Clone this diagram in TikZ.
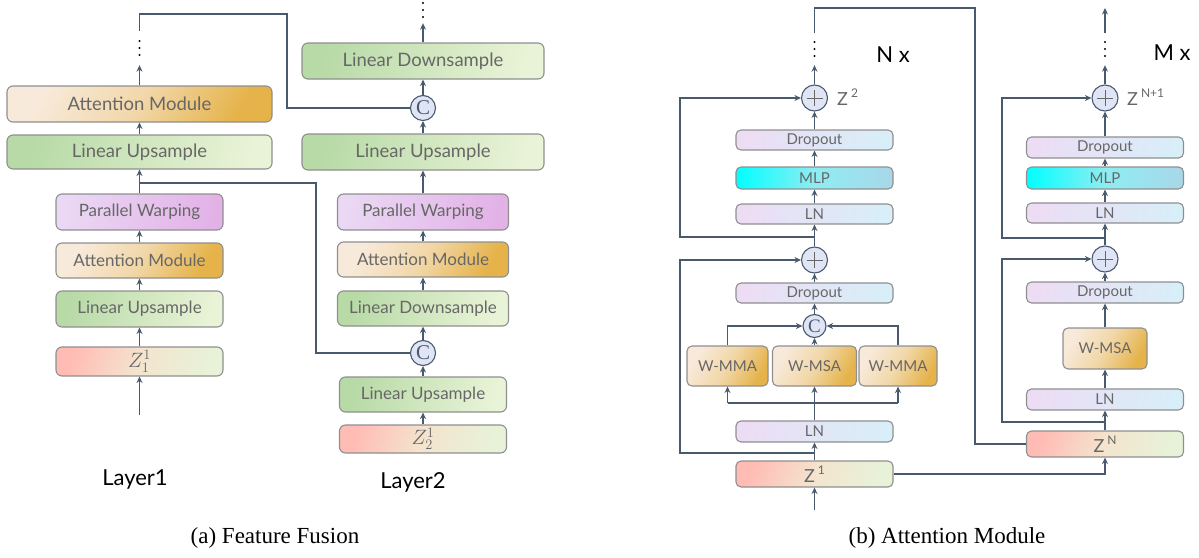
\documentclass[tikz,border=0pt]{standalone}
\usepackage{fontspec}
\setmainfont{Lato}
\newfontfamily\capfont{Liberation Serif}
\usetikzlibrary{arrows.meta}
\definecolor{lc}{HTML}{4A5A6E}
\definecolor{bord}{HTML}{8F8F8F}
\definecolor{txt}{HTML}{676767}
\definecolor{g1}{HTML}{B7DAA6}
\definecolor{g2}{HTML}{E9F3D7}
\definecolor{o1}{HTML}{F8EADB}
\definecolor{o2}{HTML}{E5B34A}
\definecolor{pu1}{HTML}{EAD8F4}
\definecolor{pu2}{HTML}{E2B2E7}
\definecolor{z1}{HTML}{FFBCB5}
\definecolor{z2}{HTML}{F4E4CE}
\definecolor{z3}{HTML}{E7F2D8}
\definecolor{l1}{HTML}{ECDDF5}
\definecolor{l2}{HTML}{D8EEF8}
\definecolor{m1}{HTML}{00FFFF}
\definecolor{m3}{HTML}{8EEDF2}
\definecolor{m2}{HTML}{A9D7E8}
\definecolor{cf}{HTML}{DFE5F5}
\newcommand\supx[1]{\raisebox{0.42em}{\fontsize{12}{12}\selectfont #1}}
\begin{document}
\begin{tikzpicture}[x=1pt,y=-1pt,
  bx/.style={draw=bord,line width=1.1pt,rounded corners=6pt,inner sep=0pt,text=txt,font=\fontsize{17}{20}\selectfont},
  big/.style={font=\fontsize{18.5}{20}\selectfont},
  sbx/.style={bx,rounded corners=5pt,font=\fontsize{15}{17}\selectfont},
  zm/.style={font=\fontsize{21}{22}\selectfont},
  grn/.style={left color=g1,right color=g2,shading angle=75},
  org/.style={left color=o1,right color=o2,middle color=o1!65!o2,shading angle=60},
  pur/.style={left color=pu1,right color=pu2,shading angle=80},
  zc/.style={left color=z1,right color=z3,middle color=z2,shading angle=70},
  lav/.style={left color=l1,right color=l2,shading angle=80},
  mlpc/.style={left color=m1,right color=m2,middle color=m3,shading angle=90},
  dn/.style={inner sep=0pt,minimum width=4pt,minimum height=32pt},
  cc/.style={circle,draw=lc,line width=1.1pt,fill=cf,minimum size=25pt,inner sep=0pt,text=lc,font=\capfont\fontsize{21}{21}\selectfont},
  pl/.style={circle,draw=lc,line width=1.1pt,fill=cf,minimum size=26pt,inner sep=0pt,
    path picture={\draw[txt,line width=0.9pt]
      ([xshift=-8pt]path picture bounding box.center) -- ([xshift=8pt]path picture bounding box.center)
      ([yshift=-8pt]path picture bounding box.center) -- ([yshift=8pt]path picture bounding box.center);}},
  ln/.style={draw=lc,line width=1.1pt},
  arr/.style={ln,-{Stealth[length=6.5pt,width=6pt]}},
  lab/.style={text=txt,font=\fontsize{18}{20}\selectfont,inner sep=0pt},
  lay/.style={text=black,font=\fontsize{22}{24}\selectfont},
  captxt/.style={text=black,font=\capfont\fontsize{23}{26}\selectfont}]
\useasboundingbox (0,0) rectangle (1199,557);

% ---------------- (a) Layer1 ----------------
\node[dn,minimum height=34pt] (d1) at (139.5,48) {};
\node[bx,org,big,minimum width=265pt,minimum height=36pt] (a1) at (139.5,104) {Attention Module};
\node[bx,grn,big,minimum width=265pt,minimum height=34pt] (u1) at (139.5,152) {Linear Upsample};
\coordinate (j1) at (139.5,183);
\node[bx,pur,minimum width=167pt,minimum height=36pt] (pw1) at (139.5,212) {Parallel Warping};
\node[bx,org,minimum width=167pt,minimum height=35pt] (am1) at (139.5,260.5) {Attention Module};
\node[bx,grn,minimum width=167pt,minimum height=36pt] (lu1) at (139.5,309) {Linear Upsample};
\node[bx,zc,zm,minimum width=167pt,minimum height=29pt] (zz1) at (139.5,361.5) {$Z_1^1$};
\coordinate (in1) at (139.5,415);
\node[lay] (lay1) at (135,479) {Layer1};

% ---------------- (a) Layer2 ----------------
\node[dn,minimum height=26pt] (d2) at (423,10) {};
\node[bx,grn,big,minimum width=242pt,minimum height=36pt] (ld2) at (423,61) {Linear Downsample};
\node[cc] (c1) at (423,108) {C};
\node[bx,grn,big,minimum width=242pt,minimum height=36pt] (lu2) at (423,152) {Linear Upsample};
\node[bx,pur,minimum width=171pt,minimum height=36pt] (pw2) at (423,212) {Parallel Warping};
\node[bx,org,minimum width=171pt,minimum height=35pt] (am2) at (423,259.5) {Attention Module};
\node[bx,grn,minimum width=171pt,minimum height=35pt] (ldn2) at (423,308.5) {Linear Downsample};
\node[cc] (c2) at (423,353) {C};
\node[bx,grn,minimum width=167pt,minimum height=35pt] (lu3) at (423,394.5) {Linear Upsample};
\node[bx,zc,zm,minimum width=167pt,minimum height=28pt] (zz2) at (423,439) {$Z_2^1$};
\node[lay] (lay2) at (413,482) {Layer2};

\node[captxt] (cap1) at (275,538) {(a) Feature Fusion};

% ---------------- (b) column 1 ----------------
\node[dn] (e1) at (814.5,49) {};
\node[pl] (pA) at (814.5,98) {};
\node[lab,anchor=west] (zl2) at (837,97) {Z\,\supx{2}};
\node[sbx,lav,minimum width=157pt,minimum height=20pt] (do1) at (814.5,140) {Dropout};
\node[sbx,mlpc,minimum width=157pt,minimum height=22pt] (mlp1) at (814.5,178) {MLP};
\node[sbx,lav,minimum width=157pt,minimum height=20pt] (ln1) at (814.5,214) {LN};
\coordinate (j2) at (814.5,237);
\node[pl] (pB) at (814.5,260) {};
\node[sbx,lav,minimum width=157pt,minimum height=20pt] (do2) at (814.5,293) {Dropout};
\node[cc,minimum size=23pt,font=\capfont\fontsize{19}{19}\selectfont] (cB) at (814.5,326) {C};
\node[sbx,org,minimum width=81pt,minimum height=40pt] (wm1) at (727.5,366) {W-MMA};
\node[sbx,org,minimum width=84pt,minimum height=40pt] (ws1) at (814.5,366) {W-MSA};
\node[sbx,org,minimum width=78pt,minimum height=40pt] (wm2) at (898,366) {W-MMA};
\coordinate (j3) at (814.5,403);
\node[sbx,lav,minimum width=157pt,minimum height=21pt] (ln2) at (814.5,431.5) {LN};
\coordinate (j4) at (814.5,453);
\node[sbx,zc,minimum width=157pt,minimum height=26pt,font=\fontsize{18}{20}\selectfont] (zb1) at (814.5,474) {Z\,\supx{1}};
\coordinate (in2) at (814.5,510);
\coordinate (lx1) at (680,0);
\node[lay] (nx) at (893,55) {N x};

% ---------------- (b) column 2 ----------------
\coordinate (top2) at (1105,8);
\node[dn] (e2) at (1105,49) {};
\node[pl] (pC) at (1105,98) {};
\node[lab,anchor=west] (zl3) at (1127,97) {Z\,\supx{N+1}};
\node[sbx,lav,minimum width=157pt,minimum height=21pt] (do3) at (1105,147.5) {Dropout};
\node[sbx,mlpc,minimum width=157pt,minimum height=22pt] (mlp2) at (1105,178) {MLP};
\node[sbx,lav,minimum width=157pt,minimum height=20pt] (ln3) at (1105,213) {LN};
\coordinate (j5) at (1105,238);
\node[pl] (pD) at (1105,259) {};
\node[sbx,lav,minimum width=157pt,minimum height=21pt] (do4) at (1105,292.5) {Dropout};
\node[sbx,org,minimum width=84pt,minimum height=41pt] (ws2) at (1105,348.5) {W-MSA};
\node[sbx,lav,minimum width=157pt,minimum height=21pt] (ln4) at (1105,399.5) {LN};
\coordinate (j6) at (1105,422);
\node[sbx,zc,minimum width=157pt,minimum height=26pt,font=\fontsize{18}{20}\selectfont] (zN) at (1105,444) {Z\,\supx{N}};
\coordinate (lx2) at (1002,0);
\node[lay] (mx) at (1172,53) {M x};

\node[captxt] (cap2) at (947,538) {(b) Attention Module};

% dots
\foreach \n in {d1,d2,e1,e2} {\foreach \dy in {-7,0,7} {\fill[black] (\n.center) ++(0,\dy) circle (1.1pt);}}

% ---------------- connectors (a) ----------------
\draw[arr] (in1) -- (zz1);
\draw[arr] (zz1) -- (lu1);
\draw[arr] (lu1) -- (am1);
\draw[arr] (am1) -- (pw1);
\draw[arr] (pw1) -- (u1);
\draw[arr] (u1) -- (a1);
\draw[arr] (a1) -- (d1);
\draw[ln] (d1.north) |- (287,14) |- (c1);
\draw[ln] (j1) -| (316,300) |- (c2);

\draw[arr] (zz2) -- (lu3);
\draw[arr] (lu3) -- (c2);
\draw[arr] (c2) -- (ldn2);
\draw[arr] (ldn2) -- (am2);
\draw[arr] (am2) -- (pw2);
\draw[arr] (pw2) -- (lu2);
\draw[arr] (lu2) -- (c1);
\draw[arr] (c1) -- (ld2);
\draw[arr] (ld2) -- (d2);

% ---------------- connectors (b) ----------------
\draw[arr] (in2) -- (zb1);
\draw[arr] (zb1) -- (ln2);
\draw[arr] (ln2) -- (ws1);
\draw[ln] (wm1.south |- j3) -- (wm2.south |- j3);
\draw[arr] (wm1.south |- j3) -- (wm1);
\draw[arr] (wm2.south |- j3) -- (wm2);
\draw[arr] (wm1.north) |- (cB);
\draw[arr] (wm2.north) |- (cB);
\draw[arr] (ws1) -- (cB);
\draw[arr] (cB) -- (do2);
\draw[arr] (do2) -- (pB);
\draw[arr] (j4) -| (lx1 |- pB) -- (pB);
\draw[arr] (pB) -- (ln1);
\draw[arr] (ln1) -- (mlp1);
\draw[arr] (mlp1) -- (do1);
\draw[arr] (do1) -- (pA);
\draw[arr] (j2) -| (lx1 |- pA) -- (pA);
\draw[arr] (pA) -- (e1);
\draw[ln] (e1.north) |- (975,8) |- (zN);
\draw[arr] (zb1) -| (zN);

\draw[arr] (zN) -- (ln4);
\draw[arr] (ln4) -- (ws2);
\draw[arr] (ws2) -- (do4);
\draw[arr] (do4) -- (pD);
\draw[arr] (j6) -| (lx2 |- pD) -- (pD);
\draw[arr] (pD) -- (ln3);
\draw[arr] (ln3) -- (mlp2);
\draw[arr] (mlp2) -- (do3);
\draw[arr] (do3) -- (pC);
\draw[arr] (j5) -| (lx2 |- pC) -- (pC);
\draw[arr] (pC) -- (e2);
\draw[arr] (e2.north) -- (top2);
\end{tikzpicture}
\end{document}
